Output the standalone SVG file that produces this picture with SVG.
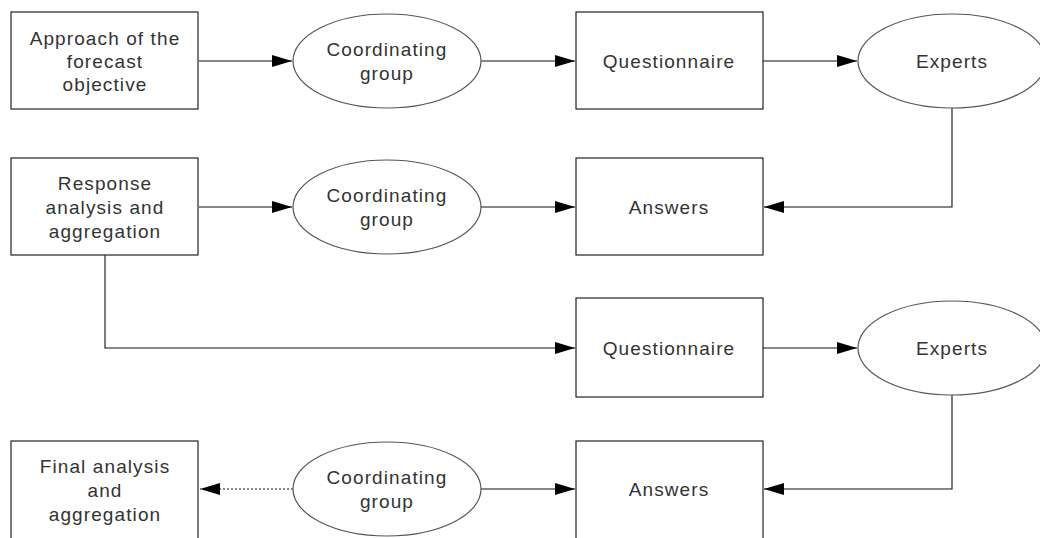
<svg xmlns="http://www.w3.org/2000/svg" width="1040" height="538" viewBox="0 0 1040 538">
<style>
.box{fill:#fff;stroke:#222;stroke-width:1.2}
.ell{fill:#fff;stroke:#555;stroke-width:1.2}
.t{font-family:"Liberation Sans",Arial,sans-serif;font-size:19px;fill:#333;text-anchor:middle;letter-spacing:1.1px}
.c{fill:none;stroke:#111;stroke-width:1.1}
.d{fill:none;stroke:#111;stroke-width:1;stroke-dasharray:2,2}
</style>
<defs>
<marker id="ah" viewBox="0 0 20 12" refX="20" refY="6" markerWidth="20" markerHeight="12" markerUnits="userSpaceOnUse" orient="auto">
<path d="M0,0 L20,6 L0,12 Z" fill="#000"/>
</marker>
</defs>
<rect width="1040" height="538" fill="#fff"/>
<g id="connectors">
<path class="c" d="M199,61 H292" marker-end="url(#ah)"/>
<path class="c" d="M481,61 H575" marker-end="url(#ah)"/>
<path class="c" d="M763,61 H857" marker-end="url(#ah)"/>
<path class="c" d="M952,108 V207 H764" marker-end="url(#ah)"/>
<path class="c" d="M199,207 H292" marker-end="url(#ah)"/>
<path class="c" d="M481,207 H575" marker-end="url(#ah)"/>
<path class="c" d="M105,255 V348 H575" marker-end="url(#ah)"/>
<path class="c" d="M763,348 H857" marker-end="url(#ah)"/>
<path class="c" d="M952,395 V489 H764" marker-end="url(#ah)"/>
<path class="c" d="M481,489 H575" marker-end="url(#ah)"/>
<path class="d" d="M293,489 H200" marker-end="url(#ah)"/>
</g>
<g id="approach">
<rect class="box" x="11" y="12" width="187" height="97"/>
<text class="t" x="105" y="45">Approach of the</text>
<text class="t" x="105" y="68">forecast</text>
<text class="t" x="105" y="91">objective</text>
</g>
<g id="coord1">
<ellipse class="ell" cx="387" cy="61" rx="94" ry="47"/>
<text class="t" x="387" y="56">Coordinating</text>
<text class="t" x="387" y="80">group</text>
</g>
<g id="quest1">
<rect class="box" x="576" y="12" width="187" height="97"/>
<text class="t" x="669" y="68">Questionnaire</text>
</g>
<g id="experts1">
<ellipse class="ell" cx="952" cy="61" rx="94" ry="47"/>
<text class="t" x="952" y="68">Experts</text>
</g>
<g id="response">
<rect class="box" x="11" y="158" width="187" height="97"/>
<text class="t" x="105" y="190">Response</text>
<text class="t" x="105" y="214">analysis and</text>
<text class="t" x="105" y="238">aggregation</text>
</g>
<g id="coord2">
<ellipse class="ell" cx="387" cy="207" rx="94" ry="47"/>
<text class="t" x="387" y="202">Coordinating</text>
<text class="t" x="387" y="226">group</text>
</g>
<g id="answers1">
<rect class="box" x="576" y="158" width="187" height="97"/>
<text class="t" x="669" y="214">Answers</text>
</g>
<g id="quest2">
<rect class="box" x="576" y="298" width="187" height="99"/>
<text class="t" x="669" y="355">Questionnaire</text>
</g>
<g id="experts2">
<ellipse class="ell" cx="952" cy="348" rx="94" ry="47"/>
<text class="t" x="952" y="355">Experts</text>
</g>
<g id="final">
<rect class="box" x="11" y="441" width="187" height="110"/>
<text class="t" x="105" y="473">Final analysis</text>
<text class="t" x="105" y="497">and</text>
<text class="t" x="105" y="521">aggregation</text>
</g>
<g id="coord3">
<ellipse class="ell" cx="387" cy="489" rx="94" ry="47"/>
<text class="t" x="387" y="484">Coordinating</text>
<text class="t" x="387" y="508">group</text>
</g>
<g id="answers2">
<rect class="box" x="576" y="441" width="187" height="110"/>
<text class="t" x="669" y="496">Answers</text>
</g>
</svg>
